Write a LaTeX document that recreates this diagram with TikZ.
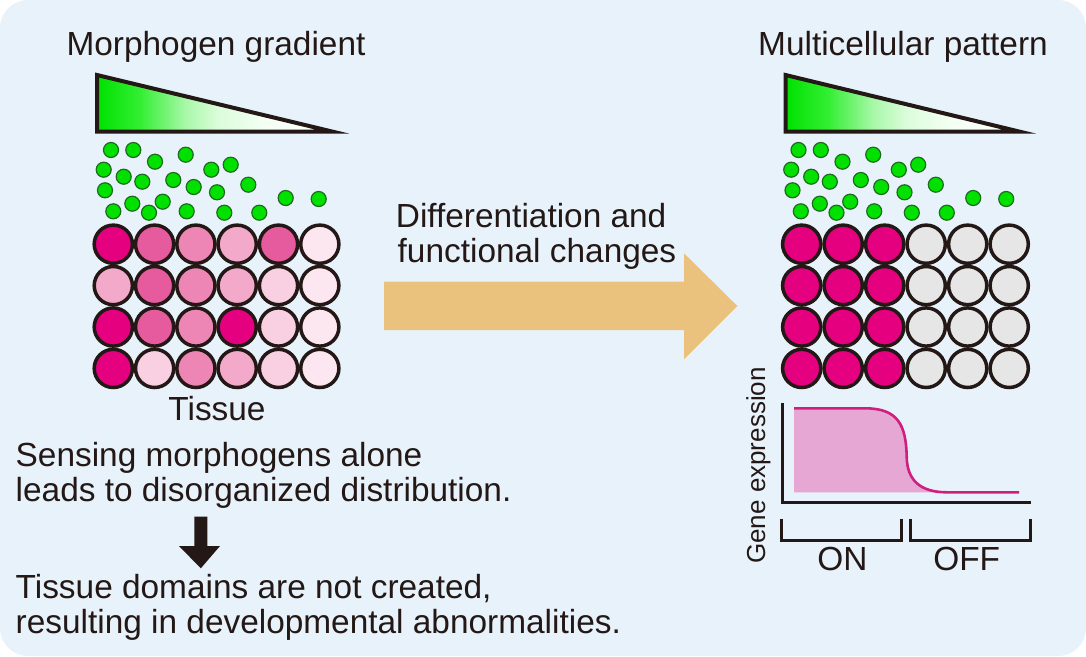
\documentclass[tikz,border=0pt]{standalone}
\usepackage{fontspec}
\setmainfont{Liberation Sans}
\definecolor{bg}{HTML}{E7F2FA}
\definecolor{ink}{HTML}{231815}
\definecolor{g0}{RGB}{0,225,0}
\definecolor{g1}{RGB}{50,238,50}
\definecolor{g2}{RGB}{170,248,170}
\definecolor{g3}{RGB}{220,252,220}
\definecolor{g4}{RGB}{245,255,245}
\definecolor{dotfill}{RGB}{0,225,0}
\definecolor{dotline}{HTML}{1D6B1D}
\definecolor{m1}{HTML}{E4007F}
\definecolor{m2}{HTML}{E65A9E}
\definecolor{m3}{HTML}{EE86B5}
\definecolor{m4}{HTML}{F3A9CA}
\definecolor{m5}{HTML}{F8D0E2}
\definecolor{m6}{HTML}{FCE6F0}
\definecolor{cellgray}{HTML}{E6E6E6}
\definecolor{arroworange}{HTML}{EBC27D}
\definecolor{curvemag}{HTML}{CF1E7E}
\definecolor{curvefill}{HTML}{E7A7D4}
\pgfdeclarehorizontalshading{morph}{100bp}{color(0bp)=(g0); color(25bp)=(g0); color(34bp)=(g1); color(44bp)=(g2); color(51bp)=(g3); color(61bp)=(g4); color(75bp)=(white); color(100bp)=(white)}
\begin{document}
\begin{tikzpicture}[x=1pt,y=-1pt,
  txt/.style={font=\fontsize{33.4}{35}\selectfont, inner sep=0pt, text=ink},
  smalltxt/.style={font=\fontsize{26}{28}\selectfont, inner sep=0pt, text=ink},
  dot/.style={circle, inner sep=0pt, minimum size=15pt, fill=dotfill, draw=dotline, line width=1.2pt},
  cell/.style={circle, inner sep=0pt, minimum size=38.2pt, draw=ink, line width=3.5pt},
  gradtri/.style={shading=morph, draw=ink, line width=4pt, miter limit=20},
  axisline/.style={draw=ink, line width=3pt},
]
\useasboundingbox (0,0) rectangle (1086,656);
\fill[bg, rounded corners=28pt] (0,0) rectangle (1086,656);

% titles
\node[txt, anchor=base] (titleL) at (216,55) {Morphogen gradient};
\node[txt, anchor=base] (titleR) at (903,55) {Multicellular pattern};

% gradient triangles
\path[gradtri] (97,75) -- (97,131.5) -- (332,131.5) -- cycle;
\path[gradtri] (785.5,75) -- (785.5,131.5) -- (1019,131.5) -- cycle;

% morphogen dots
\foreach \x/\y [count=\k] in {111/150, 133.3/150, 155/161.7, 185.7/154.7, 103.7/169.7, 123.7/176.7, 142.3/181.7, 173.3/180, 193.7/187, 211.3/169.7, 230.7/164.7, 248.3/184.7, 105/190.3, 132.3/203.7, 162.7/201.7, 217/192.3, 113.3/211.3, 149/212.7, 186.7/211.3, 224.3/212.7, 259.3/212.7, 285.7/198, 318.7/199}{
  \node[dot] (dl\k) at (\x,\y) {};
  \node[dot] (dr\k) at (\x+687.5,\y) {};
}

% left tissue
\foreach \i/\j/\col in {1/1/m1, 2/1/m2, 3/1/m3, 4/1/m4, 5/1/m2, 6/1/m6,
                        1/2/m4, 2/2/m2, 3/2/m3, 4/2/m4, 5/2/m5, 6/2/m6,
                        1/3/m1, 2/3/m2, 3/3/m3, 4/3/m1, 5/3/m5, 6/3/m6,
                        1/4/m1, 2/4/m5, 3/4/m3, 4/4/m4, 5/4/m5, 6/4/m6}{
  \node[cell, fill=\col] (L\i\j) at ({113.3+41.3*(\i-1)},{244.2+41.4*(\j-1)}) {};
}
% right tissue
\foreach \i in {1,...,6}{
  \foreach \j in {1,...,4}{
    \ifnum\i<4 \def\col{m1}\else\def\col{cellgray}\fi
    \node[cell, fill=\col] (R\i\j) at ({801.7+41.5*(\i-1)},{244.2+41.4*(\j-1)}) {};
  }
}

\node[txt, anchor=base] (tissue) at (217,420.5) {Tissue};

% left explanatory texts
\node[txt, anchor=base west] (s1) at (15.5,466.7) {Sensing morphogens alone};
\node[txt, anchor=base west] (s2) at (15.5,501.7) {leads to disorganized distribution.};
\node[txt, anchor=base west] (s3) at (15.5,598) {Tissue domains are not created,};
\node[txt, anchor=base west] (s4) at (15.5,633.3) {resulting in developmental abnormalities.};

% black down arrow
\fill[ink] (194.3,516.7) -- (207.3,516.7) -- (207.3,546) -- (220,546) -- (200.8,568.3) -- (179,546) -- (194.3,546) -- cycle;

% big orange arrow
\fill[arroworange] (384,281.7) -- (684,281.7) -- (684,253.3) -- (737.3,306) -- (684,359.3) -- (684,330) -- (384,330) -- cycle;
\node[txt, anchor=base west] (d1) at (395.7,227.3) {Differentiation and};
\node[txt, anchor=base west] (d2) at (397.5,262) {functional changes};

% gene expression graph
\fill[curvefill] (794,408.3) -- (865,408.3) .. controls (898,408.3) and (906,425) .. (906.7,456.7) .. controls (907,480) and (920,492.3) .. (947,492.3) -- (794,492.3) -- cycle;
\draw[curvemag, line width=2.6pt] (794,408.3) -- (865,408.3) .. controls (898,408.3) and (906,425) .. (906.7,456.7) .. controls (907,480) and (920,492.3) .. (947,492.3) -- (1019,492.3);
\draw[axisline] (782.3,402.7) -- (782.3,502.7) -- (1030.7,502.7);
\draw[axisline] (781.7,519.3) -- (781.7,540) -- (901.7,540) -- (901.7,519.3);
\draw[axisline] (910,519.3) -- (910,540) -- (1030,540) -- (1030,519.3);
\node[txt, anchor=base] (on) at (842.5,570.7) {ON};
\node[txt, anchor=base] (off) at (966.7,570.7) {OFF};
\node[smalltxt, anchor=base, rotate=90] (gene) at (765,465.5) {Gene expression};
\end{tikzpicture}
\end{document}
